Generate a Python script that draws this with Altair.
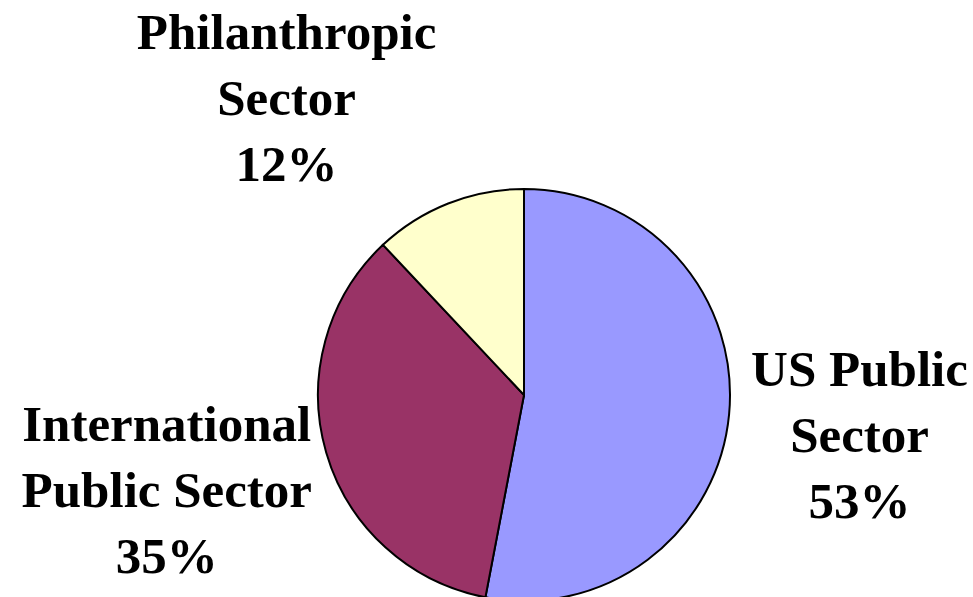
import altair as alt
import pandas as pd
import math

categories = ["US Public Sector", "International Public Sector", "Philanthropic Sector"]
display_labels = ["US Public\nSector", "International\nPublic Sector", "Philanthropic\nSector"]
values = [53, 35, 12]
colors = ["#9999FF", "#993366", "#FFFFCC"]

df = pd.DataFrame({
    "category": categories,
    "display": display_labels,
    "value": values,
    "order": list(range(len(categories))),
})

base = alt.Chart(df)

arc = base.mark_arc(stroke="black", strokeWidth=2, radius=206).encode(
    theta=alt.Theta("value:Q", stack=True),
    order=alt.Order("order:Q"),
    color=alt.Color("category:N", scale=alt.Scale(domain=categories, range=colors), legend=None),
    x=alt.value(524),
    y=alt.value(395),
)

text_base = base.transform_window(
    cum="sum(value)", sort=[alt.SortField("order")], frame=[None, 0]
).transform_calculate(
    mid="datum.cum - datum.value / 2",
    label="datum.display + '\\n' + datum.value + '%'",
)

def label_layer(cat, r, dx, dy):
    return text_base.transform_filter(alt.datum.category == cat).mark_text(
        font="Liberation Serif", fontWeight="bold", fontSize=51, lineBreak="\n",
        lineHeight=66, align="center", baseline="middle", color="black",
        radius=r, dx=dx, dy=dy,
    ).encode(
        theta=alt.Theta("mid:Q", scale=alt.Scale(domain=[0, 100], range=[0, 2 * math.pi])),
        text="label:N",
        x=alt.value(524),
        y=alt.value(395),
    )

chart = alt.layer(
    arc,
    label_layer("US Public Sector", 337, 0, -56),
    label_layer("International Public Sector", 372, 0, -73),
    label_layer("Philanthropic Sector", 300, -127, -82),
).properties(
    width=973, height=597, padding=0,
    autosize=alt.AutoSizeParams(type="none"),
).configure_view(stroke=None)

chart.save("out.html", embed_options={"renderer": "svg", "actions": False})
